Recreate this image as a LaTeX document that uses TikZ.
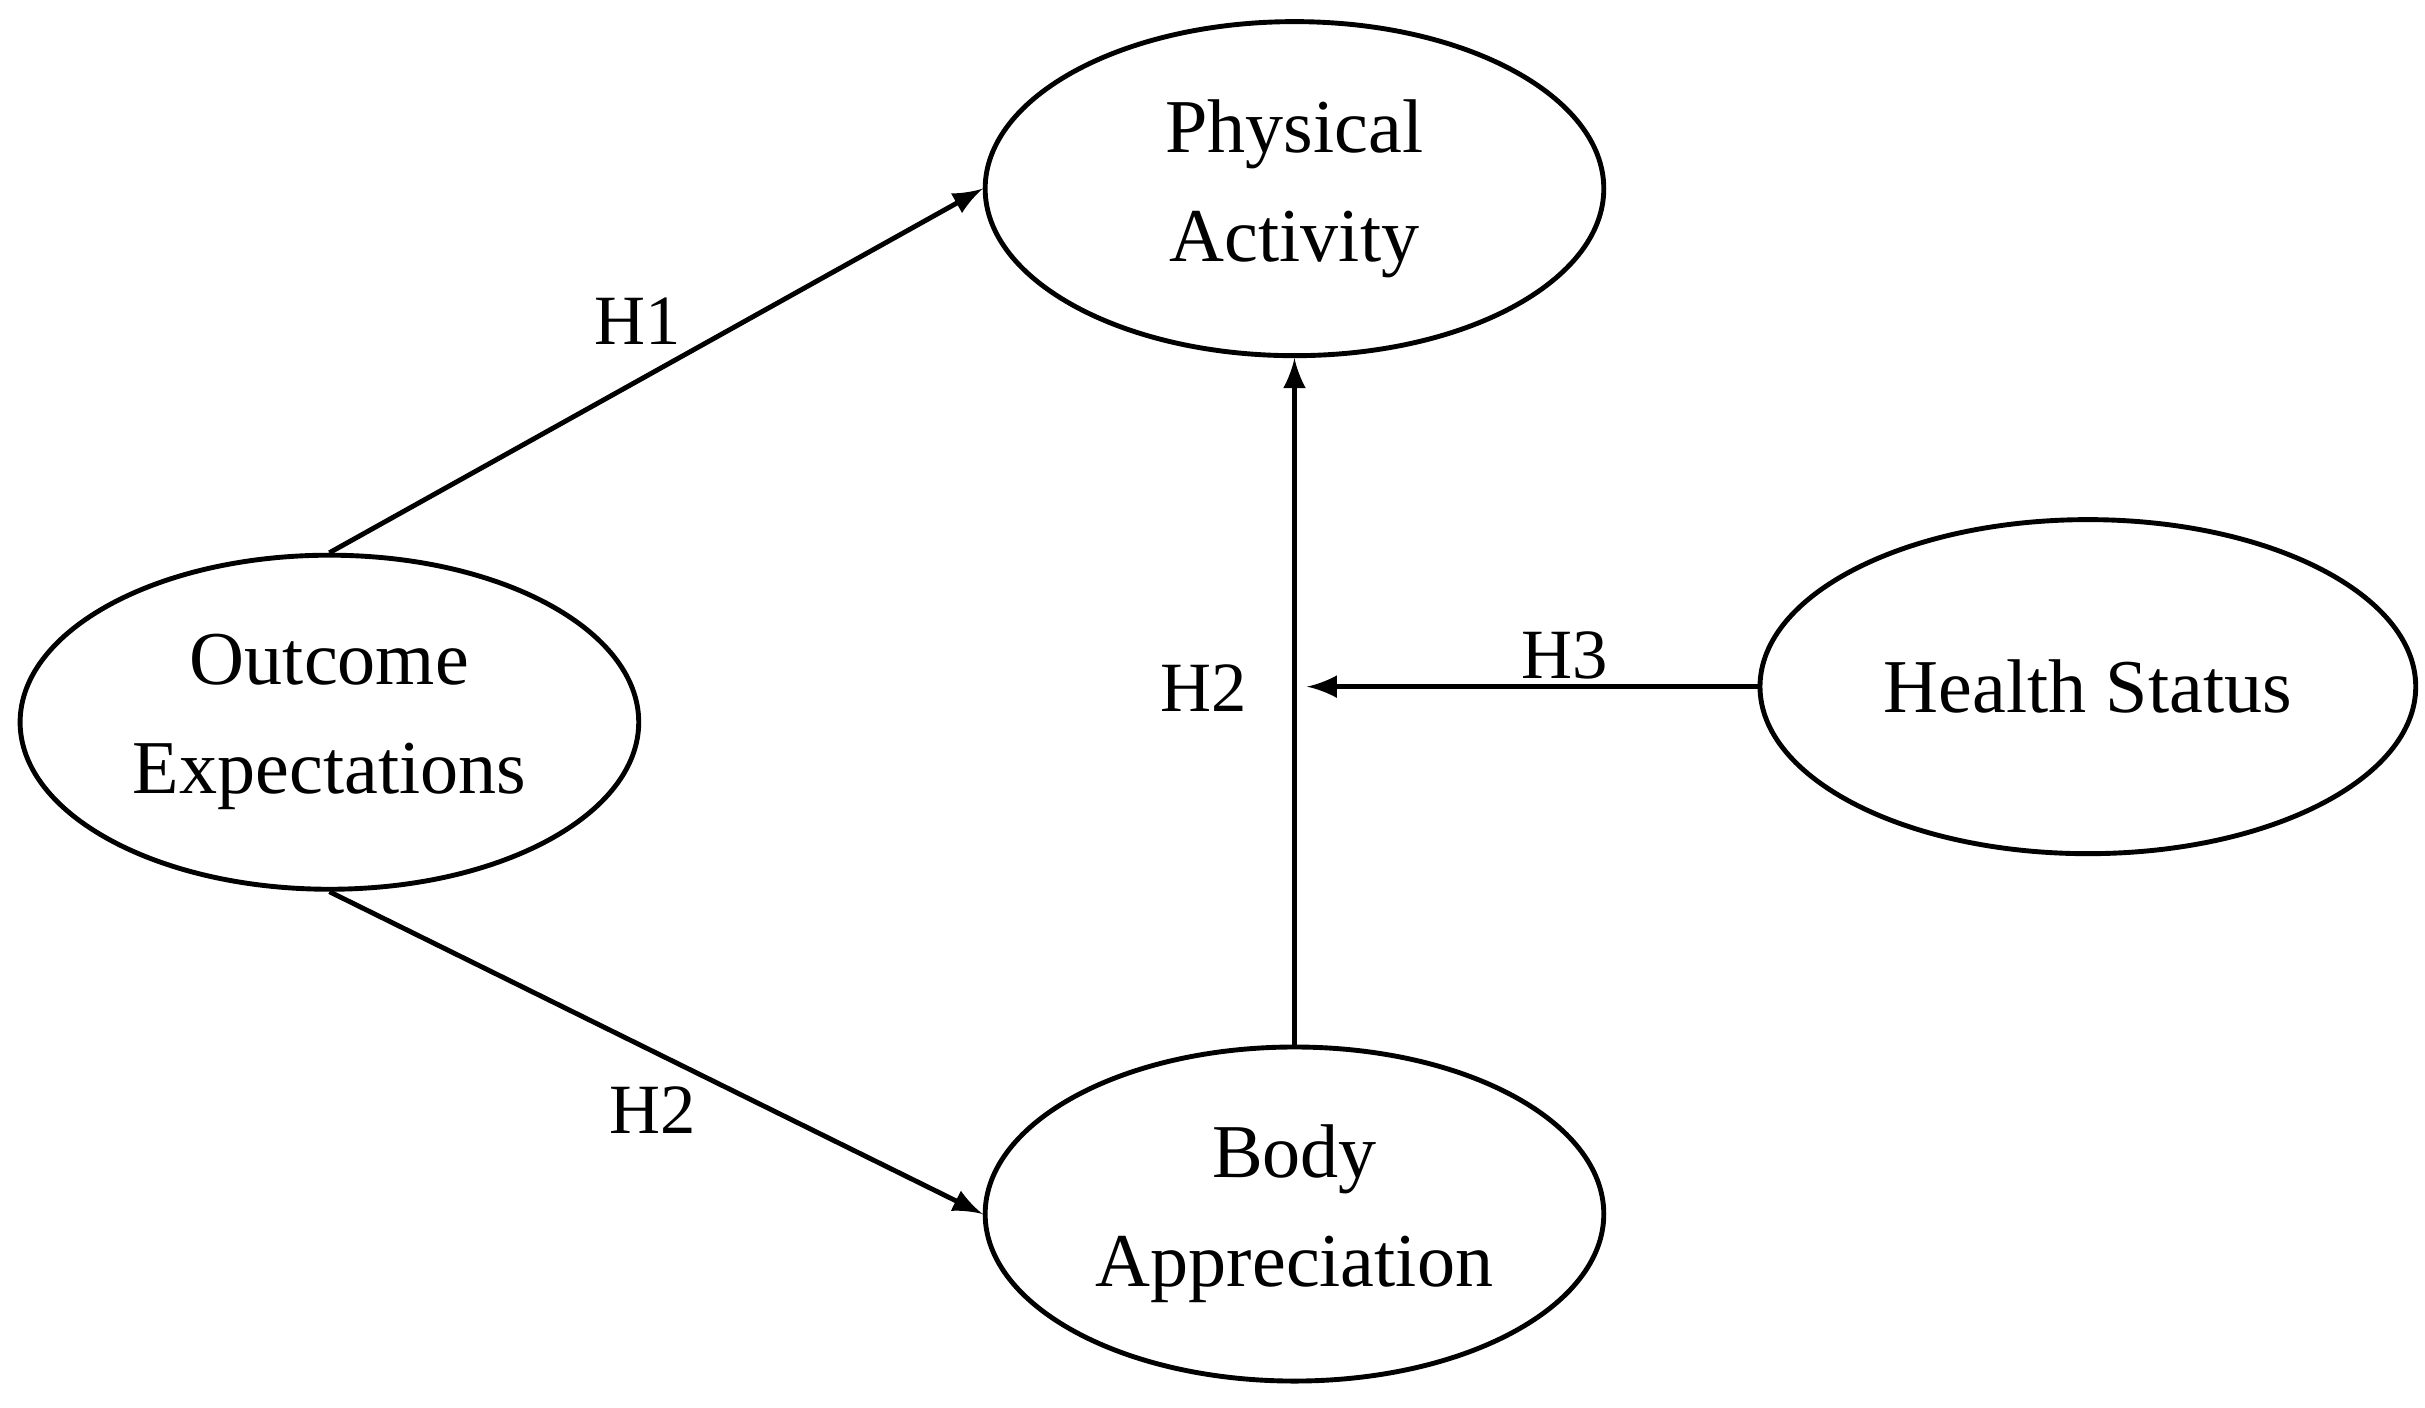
\documentclass[tikz,border=0pt]{standalone}
\usepackage{fontspec}
\setmainfont{Liberation Serif}
\usetikzlibrary{shapes.geometric}
\begin{document}
\begin{tikzpicture}[
    construct/.style={draw,line width=0.9pt,ellipse,minimum width=4cm,minimum height=2.16cm,align=center,font=\fontsize{14}{20}\selectfont},
    hyp/.style={font=\fontsize{13}{16}\selectfont},
    path/.style={->,>=latex,line width=0.9pt}]
        \useasboundingbox (0,0) rectangle (15.68,9.10);
        \node[construct] (pa) at (8.37,7.88) {Physical\\Activity};
        \node[construct] (oe) at (2.13,4.43) {Outcome\\Expectations};
        \node[construct] (ba) at (8.37,1.25) {Body\\Appreciation};
        \node[construct,minimum width=4.24cm] (hs) at (13.50,4.66) {Health Status};
        \coordinate (mod) at (8.45,4.66);
        \draw[path] (oe.north) -- (pa.west);
        \draw[path] (oe.south) -- (ba.west);
        \draw[path] (ba.north) -- (pa.south);
        \draw[path] (hs.west) -- (mod);
        \node[hyp] (h1) at (4.12,7.02) {H1};
        \node[hyp] (h2a) at (4.22,1.92) {H2};
        \node[hyp] (h2b) at (7.78,4.65) {H2};
        \node[hyp] (h3) at (10.12,4.86) {H3};
    \end{tikzpicture}
\end{document}
